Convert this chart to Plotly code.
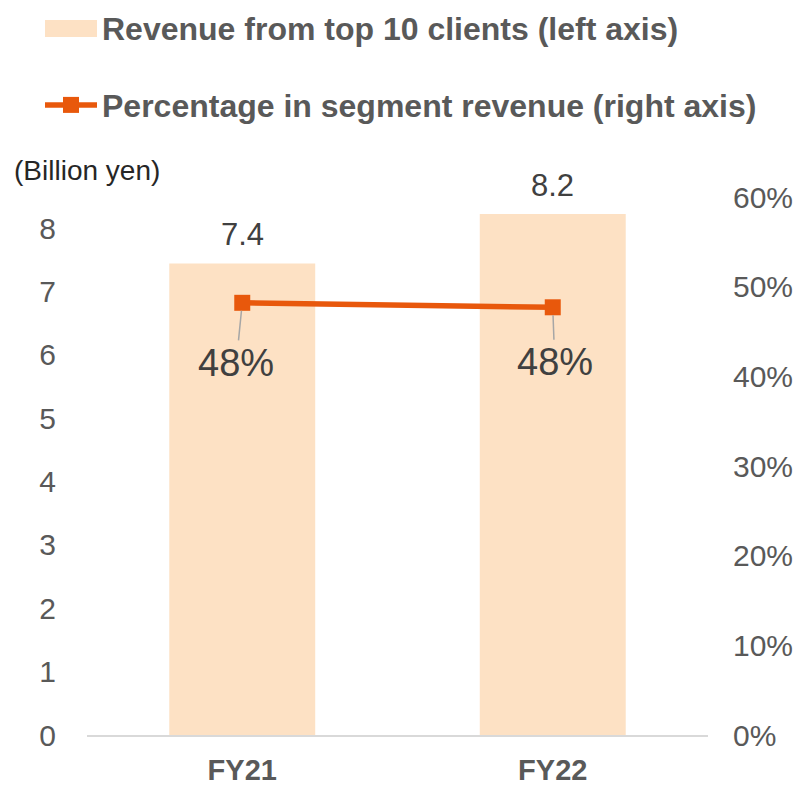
import plotly.graph_objects as go

categories = ["FY21", "FY22"]
revenue = [7.44, 8.22]        # billion yen, left axis
share = [0.482, 0.477]        # share of segment revenue, right axis
left_ticks = [0, 1, 2, 3, 4, 5, 6, 7, 8]
right_ticks = [0, 0.1, 0.2, 0.3, 0.4, 0.5, 0.6]

BAR = "#FDE1C4"
LINE = "#E8580C"
GRAY = "#595959"
DARK = "#404040"
FONT = "Liberation Sans, Arial, sans-serif"

# plot-area geometry in pixels (used only to place the legend swatch / unit label)
L, R, T, B = 87, 92, 197, 52
W, H = 800, 787
PW, PH = W - L - R, H - T - B

def px_x(x):
    return (x - L) / PW

def px_y(y):
    return (H - B - y) / PH

fig = go.Figure()
fig.add_trace(go.Bar(
    x=categories, y=revenue, name="Revenue from top 10 clients (left axis)",
    marker=dict(color=BAR, line=dict(width=0)),
    legendgroup="a", yaxis="y",
))
fig.add_trace(go.Scatter(
    x=categories, y=share, name="Percentage in segment revenue (right axis)",
    mode="lines+markers", line=dict(color=LINE, width=5.5),
    marker=dict(symbol="square", size=16, color=LINE),
    legendgroup="b", yaxis="y2",
))

# value labels above the bars
for c, v in zip(categories, revenue):
    fig.add_annotation(
        x=c, y=v, xref="x", yref="y", text=f"{v:.1f}", showarrow=False,
        yanchor="middle", yshift=29,
        font=dict(size=31, color=DARK, family=FONT),
    )

# percentage labels with leader lines
offsets = [(-6, 60), (2, 55)]
for c, v, (ax, ay) in zip(categories, share, offsets):
    fig.add_annotation(
        x=c, y=v, xref="x", yref="y2", text=f"{round(v*100)}%",
        showarrow=True, arrowhead=0, arrowwidth=1.5, arrowcolor="#A6A6A6",
        ax=ax, ay=ay, standoff=8,
        font=dict(size=38, color=DARK, family=FONT),
    )

fig.add_annotation(
    x=px_x(12), y=px_y(170), xref="paper", yref="paper",
    text="(Billion yen)", showarrow=False, xanchor="left", yanchor="middle",
    font=dict(size=28, color="#262626", family=FONT),
)

# wide swatch for the bar legend entry
fig.add_shape(
    type="rect", xref="paper", yref="paper",
    x0=px_x(45), x1=px_x(97), y0=px_y(37), y1=px_y(20),
    fillcolor=BAR, line=dict(width=0), layer="above",
)

fig.update_layout(
    width=W, height=H,
    margin=dict(l=L, r=R, t=T, b=B, autoexpand=False),
    paper_bgcolor="white", plot_bgcolor="white",
    bargap=0.53,
    showlegend=True,
    legend=dict(
        x=40 / W, y=1.0, xref="container", yref="container",
        xanchor="left", yanchor="top",
        font=dict(size=32, color=GRAY, family=FONT, weight="bold"),
        traceorder="grouped", tracegroupgap=33,
        bgcolor="rgba(0,0,0,0)", itemwidth=52,
    ),
    xaxis=dict(
        showline=True, linecolor="#D9D9D9", linewidth=2,
        ticks="outside", ticklen=8, tickcolor="rgba(0,0,0,0)", showgrid=False,
        tickfont=dict(size=29, color=GRAY, family=FONT, weight="bold"),
    ),
    yaxis=dict(
        range=[0, 8.49], tickvals=left_ticks, showgrid=False, zeroline=False,
        showline=False, ticks="outside", ticklen=24, tickcolor="rgba(0,0,0,0)",
        tickfont=dict(size=30, color=GRAY, family=FONT),
    ),
    yaxis2=dict(
        range=[0, 0.60], tickvals=right_ticks, tickformat=".0%",
        overlaying="y", side="right", showgrid=False, zeroline=False,
        showline=False, ticks="outside", ticklen=18, tickcolor="rgba(0,0,0,0)",
        tickfont=dict(size=30, color=GRAY, family=FONT),
    ),
)

fig.write_html("out.html", config={"displayModeBar": False},
               post_script="document.body.style.margin='0';")
